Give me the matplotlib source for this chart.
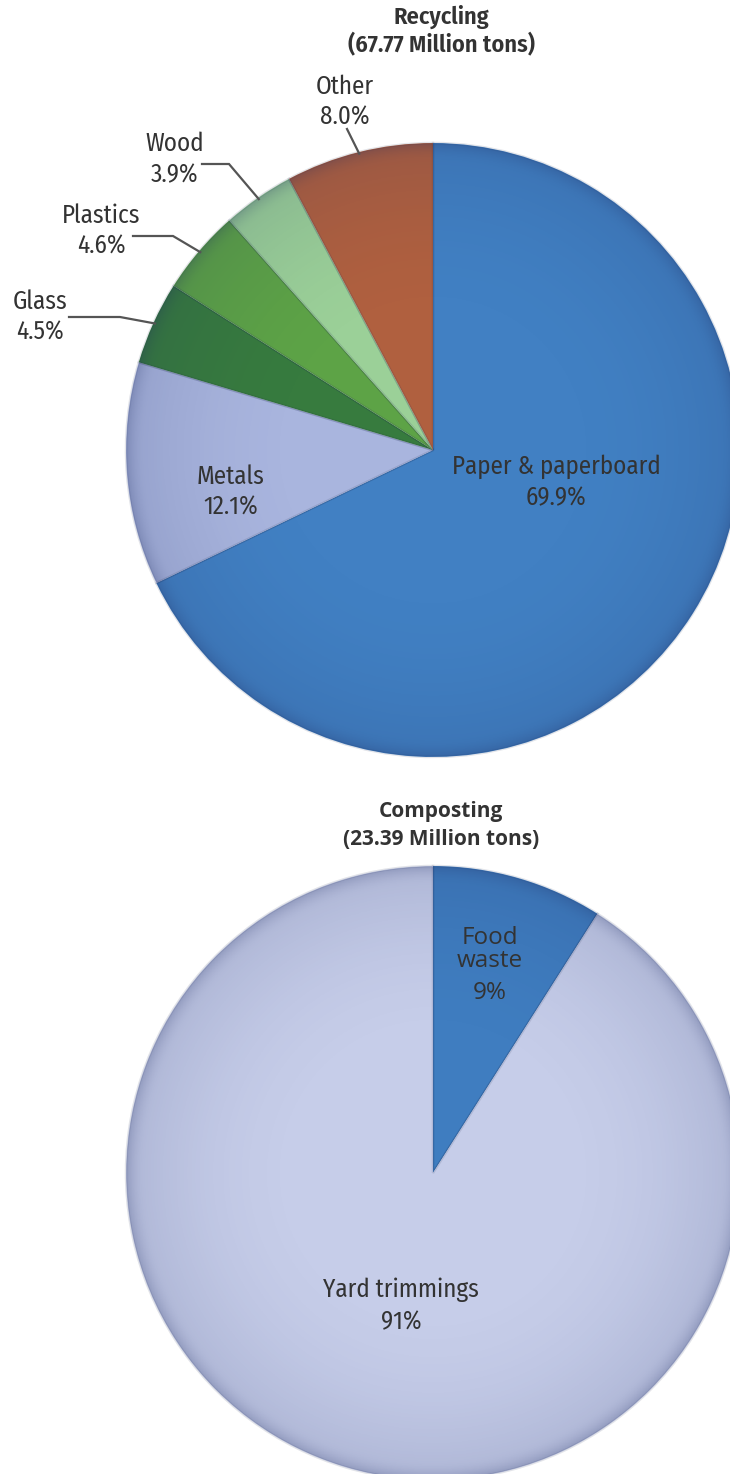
import numpy as np
import matplotlib.pyplot as plt
from matplotlib.patches import Circle

# recycling breakdown (percent of 67.77 million tons)
rec_names = ['Paper & paperboard', 'Metals', 'Glass', 'Plastics', 'Wood', 'Other']
rec_pct = [69.9, 12.1, 4.5, 4.6, 3.9, 8.0]
rec_colors = ['#4180c3', '#a9b5de', '#377b3e', '#5da346', '#9bd098', '#b0603f']

# composting breakdown (percent of 23.39 million tons)
comp_names = ['Food\nwaste', 'Yard trimmings']
comp_pct = [9, 91]
comp_colors = ['#3f7dc0', '#c6cde9']

titles = ['Recycling', 'Composting']
totals = [67.77, 23.39]

W, H = 730, 1474
R = 307
TXT = '#333333'
COND = ['Fira Sans Condensed', 'DejaVu Sans']


def Y(y):
    # pixel row (from top) -> data y
    return H - y


fig = plt.figure(figsize=(W / 100, H / 100), dpi=100)
ax = fig.add_axes([0, 0, 1, 1])


def shaded_pie(vals, colors, cx, cy):
    wedges, _ = ax.pie(vals, colors=colors, startangle=90, counterclock=False,
                       center=(cx, cy), radius=R,
                       wedgeprops=dict(edgecolor=(0.1, 0.15, 0.3, 0.12), linewidth=1.8))
    # soft darkening towards the rim
    n = 400
    g = np.linspace(-1, 1, n)
    xx, yy = np.meshgrid(g, g)
    r = np.sqrt(xx ** 2 + yy ** 2)
    a = 0.14 * np.clip((r - 0.4) / 0.6, 0, 1) ** 2 + 0.16 * np.clip((r - 0.94) / 0.06, 0, 1) ** 2
    img = np.zeros((n, n, 4))
    img[..., 0], img[..., 1], img[..., 2] = 0.12, 0.17, 0.38
    img[..., 3] = a
    im = ax.imshow(img, extent=[cx - R, cx + R, cy - R, cy + R], origin='lower', zorder=3)
    im.set_clip_path(Circle((cx, cy), R - 0.5, transform=ax.transData))
    return wedges


# --- top pie: recycling
cx1, cy1 = 433, Y(450)
w1 = shaded_pie(rec_pct, rec_colors, cx1, cy1)

# --- bottom pie: composting
cx2, cy2 = 433, Y(1173)
w2 = shaded_pie(comp_pct, comp_colors, cx2, cy2)

ax.set_xlim(0, W)
ax.set_ylim(0, H)
ax.set_aspect('equal', adjustable='box')
ax.axis('off')

# titles
ax.text(441, Y(24), titles[0], ha='center', va='baseline', fontsize=17.5,
        fontweight='semibold', family=COND, color=TXT)
ax.text(441, Y(52), f'({totals[0]:.2f} Million tons)', ha='center', va='baseline',
        fontsize=17.5, fontweight='semibold', family=COND, color=TXT)
ax.text(441, Y(817), titles[1], ha='center', va='baseline', fontsize=15,
        fontweight='bold', family='Open Sans', color=TXT)
ax.text(441, Y(845), f'({totals[1]:.2f} Million tons)', ha='center', va='baseline',
        fontsize=15, fontweight='bold', family='Open Sans', color=TXT)

# recycling labels: (x centre, first baseline)
rec_label_pos = [(556, 474), (231, 484), (40, 309), (101, 223), (175, 151), (345, 94)]
for name, pct, (lx, ly) in zip(rec_names, rec_pct, rec_label_pos):
    ax.text(lx, Y(ly), name, ha='center', va='baseline', fontsize=18,
            family=COND, color=TXT, zorder=5)
    ax.text(lx, Y(ly + 31), f'{pct:.1f}%', ha='center', va='baseline', fontsize=18,
            family=COND, color=TXT, zorder=5)

# leader lines for the small slices: start / elbow points, then out to the slice
leaders = {2: [(69, 317), (120, 317)], 3: [(133, 236), (173, 236)],
           4: [(202, 164), (229, 164)], 5: [(347, 129)]}
for i, pts in leaders.items():
    w = w1[i]
    mid = np.deg2rad((w.theta1 + w.theta2) / 2)
    ex = cx1 + 0.995 * R * np.cos(mid)
    ey = cy1 + 0.995 * R * np.sin(mid)
    xs = [p[0] for p in pts] + [ex]
    ys = [Y(p[1]) for p in pts] + [ey]
    ax.plot(xs, ys, color='#555555', lw=1.6, solid_joinstyle='miter', zorder=4)

# composting labels
food_lines = comp_names[0].split('\n') + [f'{comp_pct[0]}%']
for line, by in zip(food_lines, [944, 967, 999]):
    ax.text(490, Y(by), line, ha='center', va='baseline', fontsize=17.5,
            family='Open Sans', color=TXT, zorder=5)
ax.text(401, Y(1297), comp_names[1], ha='center', va='baseline', fontsize=18,
        family=COND, color=TXT, zorder=5)
ax.text(401, Y(1329), f'{comp_pct[1]}%', ha='center', va='baseline', fontsize=18,
        family=COND, color=TXT, zorder=5)

fig.savefig('out.png', dpi=100)
